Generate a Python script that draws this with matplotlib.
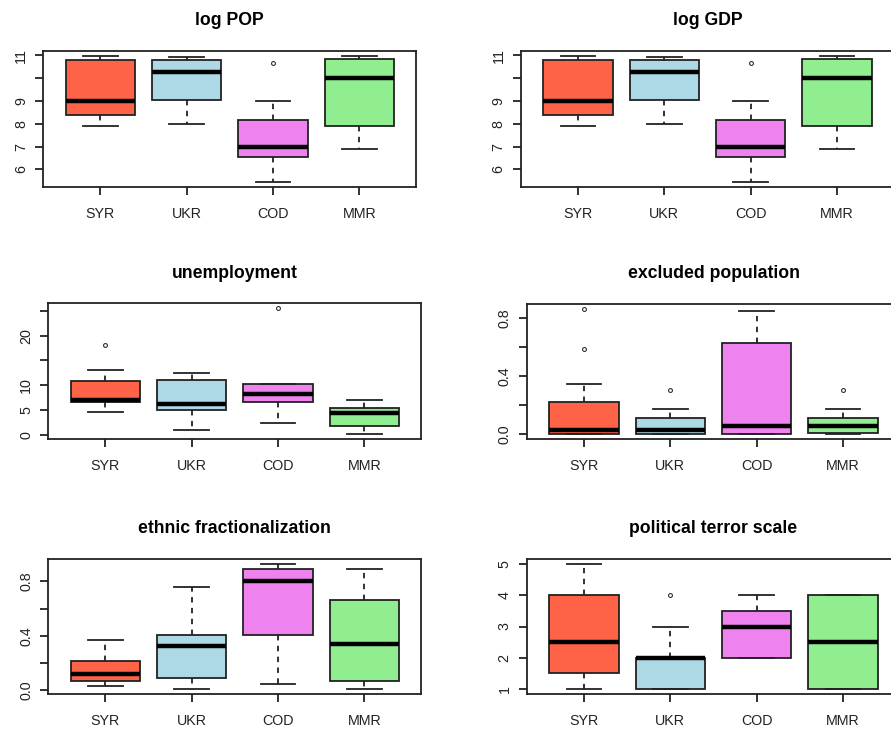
import matplotlib
matplotlib.use("Agg")
import matplotlib.pyplot as plt

plt.rcParams['font.family'] = ['Liberation Sans', 'DejaVu Sans']

countries = ["SYR", "UKR", "COD", "MMR"]
box_colors = ["#FF6347", "#ADD8E6", "#EE82EE", "#90EE90"]

# log POP (log GDP looks identical in the source)
pop_whislo = [7.89, 7.98, 5.46, 6.90]
pop_q1 = [8.39, 9.05, 6.54, 7.92]
pop_med = [9.00, 10.25, 6.97, 10.01]
pop_q3 = [10.78, 10.78, 8.15, 10.84]
pop_whishi = [10.97, 10.91, 8.98, 10.97]
pop_fliers = [[], [], [10.68], []]

gdp_whislo = [7.89, 7.98, 5.46, 6.90]
gdp_q1 = [8.39, 9.05, 6.54, 7.92]
gdp_med = [9.00, 10.25, 6.97, 10.01]
gdp_q3 = [10.78, 10.78, 8.15, 10.84]
gdp_whishi = [10.97, 10.91, 8.98, 10.97]
gdp_fliers = [[], [], [10.68], []]

unemp_whislo = [4.57, 1.08, 2.5, 0.15]
unemp_q1 = [6.7, 5.1, 6.7, 1.88]
unemp_med = [7.1, 6.2, 8.2, 4.5]
unemp_q3 = [10.9, 11.16, 10.3, 5.44]
unemp_whishi = [13.1, 12.57, 10.3, 7.06]
unemp_fliers = [[18.2], [], [25.5], []]

excl_whislo = [0.0, 0.0, 0.0, 0.0]
excl_q1 = [0.005, 0.005, 0.0, 0.009]
excl_med = [0.028, 0.028, 0.058, 0.06]
excl_q3 = [0.224, 0.11, 0.624, 0.11]
excl_whishi = [0.343, 0.177, 0.848, 0.177]
excl_fliers = [[0.588, 0.86], [0.306], [], [0.306]]

ethnic_whislo = [0.027, 0.008, 0.042, 0.008]
ethnic_q1 = [0.067, 0.089, 0.407, 0.067]
ethnic_med = [0.119, 0.328, 0.805, 0.338]
ethnic_q3 = [0.217, 0.407, 0.889, 0.662]
ethnic_whishi = [0.368, 0.758, 0.931, 0.889]
ethnic_fliers = [[], [], [], []]

pts_whislo = [1, 1, 2, 1]
pts_q1 = [1.5, 1, 2, 1]
pts_med = [2.5, 2, 3, 2.5]
pts_q3 = [4, 2, 3.5, 4]
pts_whishi = [5, 3, 4, 4]
pts_fliers = [[], [4], [], []]

W, H = 891, 729


def make_stats(whislo, q1, med, q3, whishi, fliers):
    return [dict(label=c, whislo=a, q1=b, med=m, q3=d, whishi=e, fliers=f)
            for c, a, b, m, d, e, f in zip(countries, whislo, q1, med, q3, whishi, fliers)]


def draw_panel(rect, title, stats, yticks, ylabels):
    x0, top, bottom = rect
    ax = fig.add_axes([x0 / W, 1 - bottom / H, 373 / W, (bottom - top) / H])
    parts = ax.bxp(stats, positions=[1, 2, 3, 4], widths=0.8, patch_artist=True,
                   showfliers=True,
                   boxprops=dict(edgecolor="#222222", linewidth=1.3),
                   medianprops=dict(color="black", linewidth=3.2, solid_capstyle="butt"),
                   whiskerprops=dict(color="#222222", linewidth=1.3, linestyle=(0, (3, 3))),
                   capprops=dict(color="#222222", linewidth=1.3),
                   flierprops=dict(marker="o", markersize=2.8, markerfacecolor="none",
                                   markeredgecolor="#333333", markeredgewidth=0.8))
    for patch, col in zip(parts["boxes"], box_colors):
        patch.set_facecolor(col)
    for cap in parts["caps"]:
        xd = cap.get_xdata()
        mid = (xd[0] + xd[1]) / 2
        cap.set_xdata([mid - 0.2, mid + 0.2])

    # R style range: data extremes plus 4% each side
    vals = []
    for s in stats:
        vals += [s["whislo"], s["whishi"], s["q1"], s["q3"]] + list(s["fliers"])
    lo, hi = min(vals), max(vals)
    pad = 0.04 * (hi - lo)
    ax.set_ylim(lo - pad, hi + pad)
    ax.set_xlim(0.34, 4.66)

    ax.set_yticks(yticks)
    ax.set_yticklabels(ylabels)
    ax.set_xticks([1, 2, 3, 4])
    ax.set_xticklabels(countries)
    ax.tick_params(axis="both", length=6, width=1.3, color="#222222",
                   labelsize=10.3, labelcolor="#222222")
    ax.tick_params(axis="x", pad=8.5)
    ax.tick_params(axis="y", pad=5, labelrotation=90)
    for lab in ax.get_yticklabels():
        lab.set_va("center")
    for sp in ax.spines.values():
        sp.set_color("#222222")
        sp.set_linewidth(1.3)
    ax.set_title(title, fontsize=12.7, fontweight="bold", pad=18.5)
    return ax


fig = plt.figure(figsize=(W / 100, H / 100), dpi=100)

draw_panel((43.3, 51, 186.7), "log POP",
           make_stats(pop_whislo, pop_q1, pop_med, pop_q3, pop_whishi, pop_fliers),
           [6, 7, 8, 9, 10, 11], ["6", "7", "8", "9", "", "11"])
draw_panel((521, 51, 186.7), "log GDP",
           make_stats(gdp_whislo, gdp_q1, gdp_med, gdp_q3, gdp_whishi, gdp_fliers),
           [6, 7, 8, 9, 10, 11], ["6", "7", "8", "9", "", "11"])
draw_panel((48.3, 303.3, 439.3), "unemployment",
           make_stats(unemp_whislo, unemp_q1, unemp_med, unemp_q3, unemp_whishi, unemp_fliers),
           [0, 5, 10, 15, 20, 25], ["0", "5", "10", "", "20", ""])
draw_panel((527, 304, 439.3), "excluded population",
           make_stats(excl_whislo, excl_q1, excl_med, excl_q3, excl_whishi, excl_fliers),
           [0.0, 0.2, 0.4, 0.6, 0.8], ["0.0", "", "0.4", "", "0.8"])
draw_panel((48.3, 558.7, 694), "ethnic fractionalization",
           make_stats(ethnic_whislo, ethnic_q1, ethnic_med, ethnic_q3, ethnic_whishi, ethnic_fliers),
           [0.0, 0.2, 0.4, 0.6, 0.8], ["0.0", "", "0.4", "", "0.8"])
draw_panel((527, 559, 694), "political terror scale",
           make_stats(pts_whislo, pts_q1, pts_med, pts_q3, pts_whishi, pts_fliers),
           [1, 2, 3, 4, 5], ["1", "2", "3", "4", "5"])

fig.savefig("out.png", dpi=100, facecolor="white")
